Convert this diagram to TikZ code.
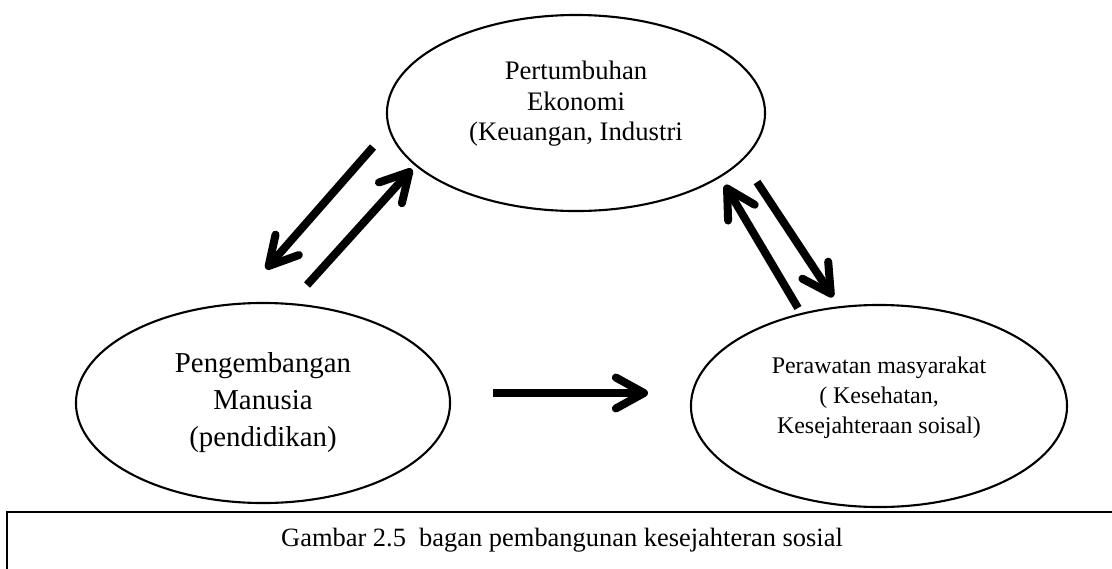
\documentclass[tikz,border=0pt]{standalone}
\usepackage{fontspec}
\setmainfont{Liberation Serif}
\usetikzlibrary{arrows.meta,shapes.geometric}

\begin{document}
\begin{tikzpicture}[x=0.025cm,y=-0.025cm,
    oval/.style={ellipse,draw,line width=1.5pt,align=center,inner sep=0pt},
    panah/.style={line width=5.7pt,-{Straight Barb[length=20pt,width=22pt,round]}}]
  \useasboundingbox (0,0) rectangle (1112,568);
  \clip (0,0) rectangle (1112,568);
  % tiga elips
  \node[oval,minimum width=9.45cm,minimum height=4.9cm,text depth=0.6cm,font=\fontsize{19}{21.7}\selectfont] (ekonomi) at (576,113) {Pertumbuhan\\Ekonomi\\(Keuangan, Industri};
  \node[oval,minimum width=9.35cm,minimum height=5cm,font=\fontsize{20.5}{26.3}\selectfont] (manusia) at (263,403) {Pengembangan\\Manusia\\(pendidikan)};
  \node[oval,minimum width=9.4cm,minimum height=5.05cm,text depth=0.53cm,font=\fontsize{17}{21.3}\selectfont] (rawat) at (879,406) {Perawatan masyarakat\\( Kesehatan,\\Kesejahteraan soisal)};
  % ujung-ujung panah
  \foreach \n/\x/\y in {a1/373/147, a2/266/269, b1/307/285, b2/412/169,
      c1/798/308, c2/725/185, d1/757/182, d2/833/297, e1/493/393, e2/648/393}
    \coordinate (\n) at (\x,\y);
  \foreach \p in {a,b,c,d,e}
    \draw[panah] (\p1) -- (\p2);
  % kotak keterangan
  \draw[line width=1.8pt] (7,512) rectangle (1140,620);
  \node[font=\fontsize{18.8}{22}\selectfont] (judul) at (562,540) {Gambar 2.5\ \ bagan pembangunan kesejahteran sosial};
\end{tikzpicture}
\end{document}
